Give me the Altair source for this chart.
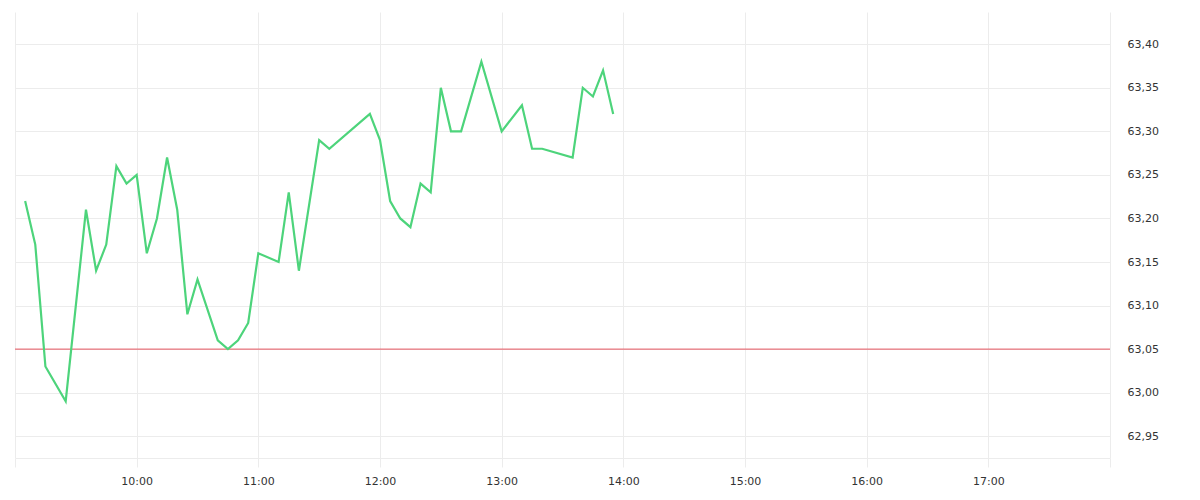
import altair as alt
import pandas as pd

times = ["09:05", "09:10", "09:15", "09:25", "09:35", "09:40", "09:45", "09:50", "09:55",
         "10:00", "10:05", "10:10", "10:15", "10:20", "10:25", "10:30", "10:40", "10:45",
         "10:50", "10:55", "11:00", "11:10", "11:15", "11:20", "11:30", "11:35", "11:55",
         "12:00", "12:05", "12:10", "12:15", "12:20", "12:25", "12:30", "12:35", "12:40",
         "12:50", "13:00", "13:10", "13:15", "13:20", "13:35", "13:40", "13:45", "13:50",
         "13:55"]
prices = [63.22, 63.17, 63.03, 62.99, 63.21, 63.14, 63.17, 63.26, 63.24,
          63.25, 63.16, 63.20, 63.27, 63.21, 63.09, 63.13, 63.06, 63.05,
          63.06, 63.08, 63.16, 63.15, 63.23, 63.14, 63.29, 63.28, 63.32,
          63.29, 63.22, 63.20, 63.19, 63.24, 63.23, 63.35, 63.30, 63.30,
          63.38, 63.30, 63.33, 63.28, 63.28, 63.27, 63.35, 63.34, 63.37,
          63.32]
reference_price = 63.05
y_ticks = [62.95, 63.00, 63.05, 63.10, 63.15, 63.20, 63.25, 63.30, 63.35, 63.40]
hour_ticks = [9, 10, 11, 12, 13, 14, 15, 16, 17, 18]

day = "2024-01-02"
df = pd.DataFrame({"time": [f"{day}T{t}:00Z" for t in times], "price": prices})

x_values = [alt.DateTime(year=2024, month=1, date=2, hours=h, utc=True) for h in hour_ticks]
x_domain = [x_values[0], x_values[-1]]

grid_color = "#ececec"
y_scale = alt.Scale(domain=[62.925, 63.437], nice=False, zero=False)

x_enc = alt.X(
    "time:T",
    scale=alt.Scale(type="utc", domain=x_domain),
    axis=alt.Axis(
        values=x_values,
        format="%H:%M",
        labelExpr="(utchours(datum.value) == 9 || utchours(datum.value) == 18) ? '' : datum.label",
        grid=True,
        gridColor=grid_color,
        tickColor=grid_color,
        tickSize=9,
        domainColor=grid_color,
        labelPadding=8,
        labelFont="DejaVu Sans",
        labelFontSize=11,
        labelColor="#333333",
        title=None,
    ),
)

y_enc = alt.Y(
    "price:Q",
    scale=y_scale,
    axis=alt.Axis(
        orient="right",
        values=y_ticks,
        labelExpr="replace(format(datum.value, '.2f'), '.', ',')",
        grid=True,
        gridColor=grid_color,
        ticks=False,
        domain=False,
        labelPadding=17,
        labelFont="DejaVu Sans",
        labelFontSize=11,
        labelColor="#333333",
        title=None,
    ),
)

line = alt.Chart(df).mark_line(color="#4dd47b", strokeWidth=2.2, strokeJoin="miter").encode(
    x=x_enc, y=y_enc
)

rule = alt.Chart(pd.DataFrame({"ref": [reference_price]})).mark_rule(
    color="#e5535e", strokeWidth=1
).encode(y=alt.Y("ref:Q", scale=y_scale))

chart = (
    alt.layer(rule, line)
    .properties(
        width=1095,
        height=446,
        background="white",
        padding={"left": 6, "top": 4, "right": 5, "bottom": 5},
    )
    .configure_view(strokeWidth=0, stroke="transparent")
)

chart.save("out.html", embed_options={"renderer": "svg", "actions": False})
